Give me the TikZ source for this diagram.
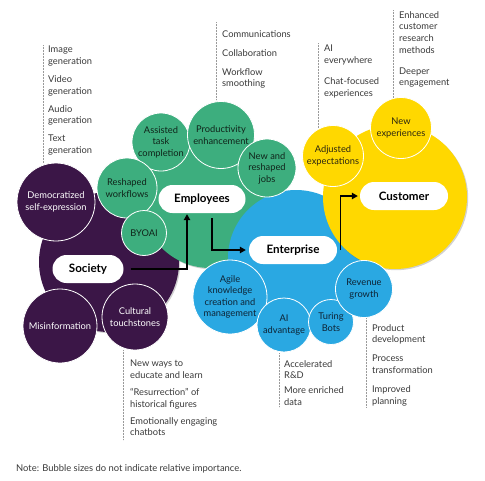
\documentclass[tikz,border=0pt]{standalone}
\usepackage{fontspec}
\setmainfont{Lato}
\usetikzlibrary{shadows,arrows.meta}
\definecolor{cpurple}{HTML}{3B1647}
\definecolor{cgreen}{HTML}{3DAE7E}
\definecolor{cblue}{HTML}{2AA8E2}
\definecolor{cyellow}{HTML}{FFD800}
\definecolor{txtgray}{HTML}{3A3A3A}
\definecolor{leadgray}{HTML}{9A9A9A}
\definecolor{darkg}{HTML}{10241A}
\definecolor{darkb}{HTML}{0E2436}
\definecolor{darky}{HTML}{2B2610}
\newcommand{\bubfont}{\fontsize{9.3}{11.5}\selectfont}
\newcommand{\lstfont}{\fontsize{9.3}{11.7}\selectfont}
\begin{document}
\begin{tikzpicture}[x=1pt,y=-1pt,
  bigc/.style={circle, inner sep=0pt, draw=none,
    drop shadow={shadow xshift=1.2pt, shadow yshift=-1.2pt, opacity=0.18, fill=black}},
  bub/.style={circle, draw=white, line width=0.8pt, inner sep=0pt, align=center, font=\bubfont},
  pbub/.style={bub, fill=cpurple, text=white},
  gbub/.style={bub, fill=cgreen, text=darkg},
  bbub/.style={bub, fill=cblue, text=darkb},
  ybub/.style={bub, fill=cyellow, text=darky},
  lab/.style={fill=white, rounded corners=14pt, minimum width=88pt, minimum height=28pt,
    inner sep=0pt, font=\bfseries\fontsize{11.6}{13}\selectfont, text=black},
  arr/.style={-{Triangle[length=6pt,width=6.5pt]}, line width=1.1pt, black},
  lead/.style={draw=leadgray, line width=0.7pt, dash pattern=on 0.6pt off 0.9pt},
  lst/.style={anchor=north west, inner sep=0pt, align=left, font=\lstfont, text=txtgray}
]
\useasboundingbox[fill=white] (0,0) rectangle (485,480);

% big circles
\node[bigc, fill=cpurple, minimum size=140pt] (socbig) at (109,262) {};
\node[bigc, fill=cgreen, minimum size=136pt] (empbig) at (210,200) {};
\node[bigc, fill=cblue, minimum size=136pt] (entbig) at (296,258) {};
\node[bigc, fill=cyellow, minimum size=144pt] (cusbig) at (395,197) {};

% society bubbles
\node[pbub, minimum size=78pt] (dem) at (56,202) {Democratized\\self-expression};
\node[pbub, minimum size=74pt] (mis) at (60,326) {Misinformation};
\node[pbub, minimum size=66pt] (cul) at (135,317) {Cultural\\touchstones};

% employee bubbles
\node[gbub, minimum size=58pt] (ast) at (161,142) {Assisted\\task\\completion};
\node[gbub, minimum size=67pt] (pro) at (221,135) {Productivity\\enhancement};
\node[gbub, minimum size=58pt] (job) at (267,168) {New and\\reshaped\\jobs};
\node[gbub, minimum size=60pt] (wfl) at (127,188) {Reshaped\\workflows};
\node[gbub, minimum size=45pt] (byo) at (144,233) {BYOAI};

% enterprise bubbles
\node[bbub, minimum size=74pt] (agi) at (230,297) {Agile\\knowledge\\creation and\\management};
\node[bbub, minimum size=54pt] (aia) at (284,325) {AI\\advantage};
\node[bbub, minimum size=45pt] (tur) at (331,322) {Turing\\Bots};
\node[bbub, minimum size=57pt] (rev) at (364,289) {Revenue\\growth};

% customer bubbles
\node[ybub, minimum size=61pt] (adj) at (333,156) {Adjusted\\expectations};
\node[ybub, minimum size=61pt] (nex) at (401,128) {New\\experiences};

% labels
\node[lab, minimum width=71pt] (soc) at (88,269) {Society};
\node[lab, minimum width=87pt] (emp) at (202,199) {Employees};
\node[lab] (ent) at (293,250) {Enterprise};
\node[lab] (cus) at (404,196) {Customer};

% arrows
\draw[arr] ([xshift=7pt]soc.east) -| ([xshift=-15pt,yshift=-1pt]emp.south);
\draw[arr] ([xshift=10pt,yshift=-5pt]emp.south) |- ([xshift=-3pt]ent.west);
\draw[arr] ([xshift=3pt]ent.east) |- ([xshift=-2pt]cus.west);

% leader lines
\coordinate (l1a) at (43,45);  \coordinate (l1b) at (43,163);
\coordinate (l2a) at (216,22); \coordinate (l2b) at (216,100);
\coordinate (l3a) at (318,43); \coordinate (l3b) at (318,128);
\coordinate (l4a) at (393,10); \coordinate (l4b) at (393,98);
\coordinate (l5a) at (123,350); \coordinate (l5b) at (123,440);
\coordinate (l6a) at (279,353); \coordinate (l6b) at (279,407);
\coordinate (l7a) at (366,318); \coordinate (l7b) at (366,407);
\draw[lead] (l1a) -- (l1b);
\draw[lead] (l2a) -- (l2b);
\draw[lead] (l3a) -- (l3b);
\draw[lead] (l4a) -- (l4b);
\draw[lead] (l5a) -- (l5b);
\draw[lead] (l6a) -- (l6b);
\draw[lead] (l7a) -- (l7b);

% lists
\node[lst] (t1) at (48,46) {Image\\generation\\[6.3pt]Video\\generation\\[6.3pt]Audio\\generation\\[6.3pt]Text\\generation};
\node[lst] (t2) at (222,30) {Communications\\[7.3pt]Collaboration\\[7.3pt]Workflow\\smoothing};
\node[lst] (t3) at (324,45) {AI\\everywhere\\[9.3pt]Chat-focused\\experiences};
\node[lst] (t4) at (399,11) {Enhanced\\customer\\research\\methods\\[9.3pt]Deeper\\engagement};
\node[lst] (t5) at (130,360) {New ways to\\educate and learn\\[5.3pt]“Resurrection” of\\historical figures\\[5.3pt]Emotionally engaging\\chatbots};
\node[lst] (t6) at (284,360) {Accelerated\\R\&D\\[3.3pt]More enriched\\data};
\node[lst] (t7) at (372,324) {Product\\development\\[7.3pt]Process\\transformation\\[7.3pt]Improved\\planning};

% note
\node[anchor=west, inner sep=0pt, font=\fontsize{9.4}{11}\selectfont, text=txtgray] (note) at (16,469) {Note: Bubble sizes do not indicate relative importance.};
\end{tikzpicture}
\end{document}
